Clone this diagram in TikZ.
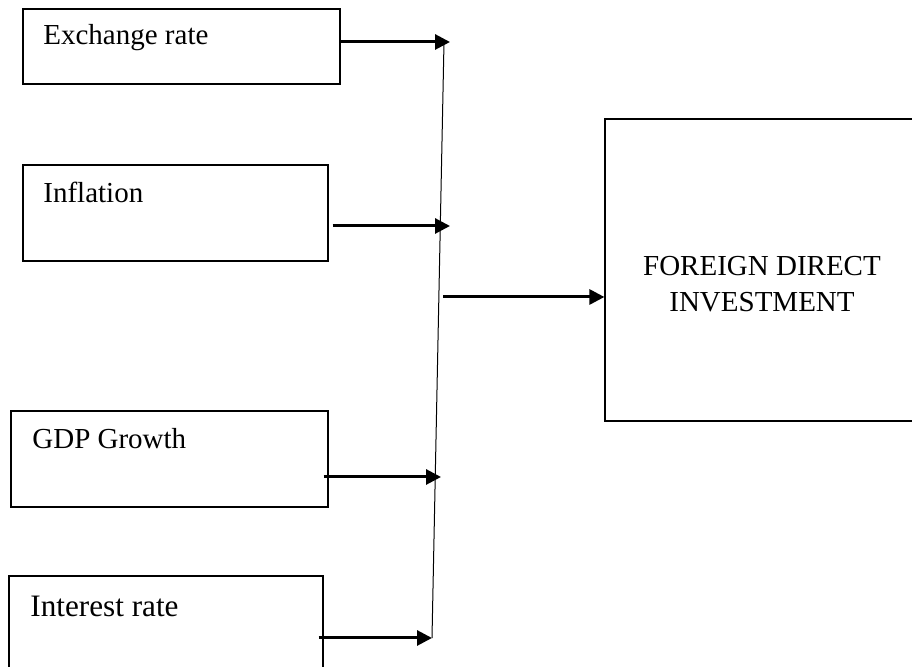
\documentclass[tikz,border=0pt]{standalone}
\usepackage{fontspec}
\setmainfont{Liberation Serif}
\usetikzlibrary{arrows.meta}
\tikzset{
  box/.style={draw,line width=0.6pt,inner sep=0pt},
  lbl/.style={anchor=base west,inner sep=0pt,font=\fontsize{14.5}{18}\selectfont},
  feed/.style={line width=1.5pt,-{Triangle[length=7.5pt,width=7.5pt]}},
  bus/.style={line width=0.5pt}
}

\begin{document}
\begin{tikzpicture}[x=0.5pt,y=-0.5pt]
\useasboundingbox (0,0) rectangle (912,667);
% factor boxes
\node[box,minimum width=158.5pt,minimum height=37.5pt] (exr) at (181.5,46.5) {};
\node[box,minimum width=152.5pt,minimum height=48pt] (infl) at (175.5,213) {};
\node[box,minimum width=158.5pt,minimum height=48pt] (gdp) at (169.5,459) {};
\node[box,minimum width=157pt,minimum height=62pt] (intr) at (166,638) {};
\node[lbl] (exrtxt) at (43,45) {Exchange rate};
\node[lbl] (infltxt) at (43,203) {Inflation};
\node[lbl] (gdptxt) at (32,449) {GDP Growth};
\node[lbl,font=\fontsize{15.6}{18}\selectfont] (intrtxt) at (30,617) {Interest rate};
% outcome box
\node[box,minimum width=157pt,minimum height=151pt] (fdi) at (762,270) {};
\node[anchor=north,inner sep=0pt,align=center,font=\fontsize{14.5}{18}\selectfont] (fditxt) at (762,256) {FOREIGN DIRECT\\INVESTMENT};
% the slanted bus
\coordinate (bustop) at (444,42);
\coordinate (busbot) at (432,638);
\draw[bus] (bustop) -- (busbot);
\coordinate (t1) at (450,42);
\coordinate (t2) at (450,226);
\coordinate (t3) at (441,477);
\coordinate (t4) at (432,638);
\coordinate (out) at (443,297);
\draw[feed] (exr.east |- t1) -- (t1);
\draw[feed] ([xshift=2pt]infl.east |- t2) -- (t2);
\draw[feed] ([xshift=-2.5pt]gdp.east |- t3) -- (t3);
\draw[feed] ([xshift=-2.5pt]intr.east |- t4) -- (t4);
\draw[feed] (out) -- (fdi.west |- out);
\end{tikzpicture}
\end{document}
